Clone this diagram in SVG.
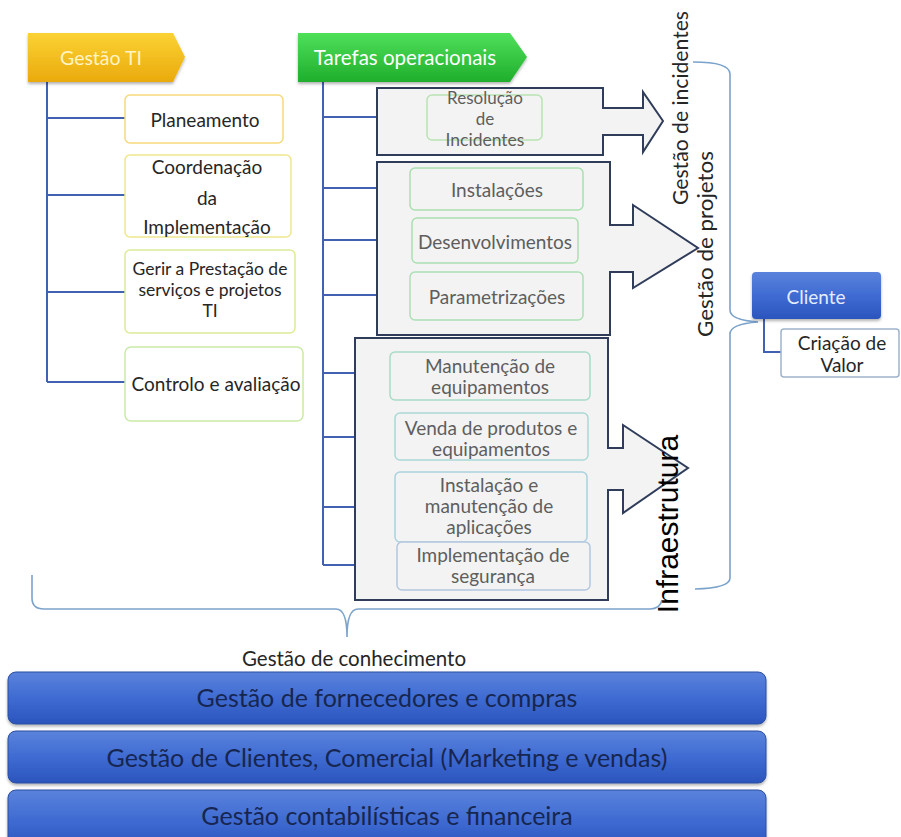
<svg xmlns="http://www.w3.org/2000/svg" width="901" height="837" viewBox="0 0 901 837">
  <defs>
    <linearGradient id="gYellow" x1="0" y1="0" x2="0" y2="1">
      <stop offset="0" stop-color="#fbd234"/>
      <stop offset="1" stop-color="#eaaa0c"/>
    </linearGradient>
    <linearGradient id="gGreen" x1="0" y1="0" x2="0" y2="1">
      <stop offset="0" stop-color="#4fe05a"/>
      <stop offset="1" stop-color="#1fae2c"/>
    </linearGradient>
    <linearGradient id="gBlue" x1="0" y1="0" x2="0" y2="1">
      <stop offset="0" stop-color="#5b83dc"/>
      <stop offset="0.5" stop-color="#3f6bd2"/>
      <stop offset="1" stop-color="#2b55bd"/>
    </linearGradient>
    <filter id="shadow" x="-10%" y="-20%" width="120%" height="150%">
      <feDropShadow dx="0" dy="2" stdDeviation="1.5" flood-color="#000" flood-opacity="0.3"/>
    </filter>
    <style>
      text { font-family: Lato, "Liberation Sans", sans-serif; text-anchor: middle; dominant-baseline: central; }
      .trunk { fill: none; stroke: #4361b3; stroke-width: 2; }
      .brace { fill: none; stroke: #7ca3cc; stroke-width: 1.6; }
      .box { stroke-width: 1.5; fill: #ffffff; }
      .op { fill: #f3f3f3; stroke-width: 1.5; }
      .container { fill: #f3f3f3; stroke: #2f3c5a; stroke-width: 2; }
      .lt { font-size: 19px; fill: #262626; }
      .ot { font-size: 19px; fill: #5e5e5e; }
      .side { font-size: 21px; fill: #262626; }
      .bar { fill: url(#gBlue); stroke: #2c4f9e; stroke-width: 1; }
      .bt { font-size: 25px; fill: #172650; }
    </style>
  </defs>

  <rect width="901" height="837" fill="#ffffff"/>

  <!-- connectors: trunks, branches, braces -->
  <g id="connectors">
    <path class="trunk" d="M47,82 V382 M47,118 H125 M47,195 H125 M47,292 H125 M47,382 H125"/>
    <path class="trunk" d="M323,82 V565 M323,117 H427 M323,188 H410 M323,240 H412 M323,295 H410 M323,373 H390 M323,437 H395 M323,507 H395 M323,565 H397"/>
    <path class="trunk" d="M764,319 V352 H781"/>
    <path class="brace" d="M693,62 Q730,62 730,74 V310 Q730,320 758,322 Q730,324 730,334 V578 Q730,588 695,589"/>
    <path class="brace" d="M32,575 V598 Q32,609 44,609 H336 Q347,609 347,637 Q347,609 358,609 H650 Q660,609 662,600"/>
  </g>

  <!-- Gestão TI banner -->
  <g id="gestao-ti">
    <path d="M28,33 H173 L185,57 L173,82 H28 Z" fill="url(#gYellow)" filter="url(#shadow)"/>
    <text x="101" y="57" style="font-size:19.5px;fill:#fff4c4">Gestão TI</text>
  </g>

  <g id="planeamento">
    <rect class="box" x="125" y="95" width="158" height="48" rx="5" stroke="#f6d97c"/>
    <text class="lt" x="205" y="119">Planeamento</text>
  </g>
  <g id="coordenacao">
    <rect class="box" x="125" y="155" width="166" height="82" rx="5" stroke="#ede78e"/>
    <text class="lt" x="207" y="166">Coordenação</text>
    <text class="lt" x="207" y="197">da</text>
    <text class="lt" x="207" y="226">Implementação</text>
  </g>
  <g id="gerir">
    <rect class="box" x="125" y="250" width="170" height="83" rx="5" stroke="#dcec98"/>
    <text class="lt" x="210" y="268" style="font-size:17.5px">Gerir a Prestação de</text>
    <text class="lt" x="210" y="289" style="font-size:17.5px">serviços e projetos</text>
    <text class="lt" x="210" y="310" style="font-size:17.5px">TI</text>
  </g>
  <g id="controlo">
    <rect class="box" x="125" y="347" width="178" height="74" rx="6" stroke="#c9eaa8"/>
    <text class="lt" x="216" y="383">Controlo e avaliação</text>
  </g>

  <!-- Tarefas operacionais banner -->
  <g id="tarefas">
    <path d="M298,33 H510 L527,57 L510,82 H298 Z" fill="url(#gGreen)" filter="url(#shadow)"/>
    <text x="405" y="57" style="font-size:20.5px;fill:#ffffff">Tarefas operacionais</text>
  </g>

  <!-- Gestão de incidentes group -->
  <g id="grupo-incidentes">
    <path class="container" d="M377,88 H603 V108 H643 V92 L663,121 L643,152 V135 H603 V155 H377 Z"/>
    <rect class="op" x="427" y="95" width="115" height="45" rx="5" stroke="#b9e3b2"/>
    <text class="ot" x="485" y="97" style="font-size:17px">Resolução</text>
    <text class="ot" x="485" y="118" style="font-size:17px">de</text>
    <text class="ot" x="485" y="139" style="font-size:17.5px">Incidentes</text>
    <line x1="377" y1="88" x2="603" y2="88" stroke="#2f3c5a" stroke-width="2"/>
  </g>

  <!-- Gestão de projetos group -->
  <g id="grupo-projetos">
    <path class="container" d="M377,162 H610 V225 H633 V205 L698,248 L633,288 V272 H610 V335 H377 Z"/>
    <g id="instalacoes">
      <rect class="op" x="410" y="168" width="173" height="42" rx="5" stroke="#a9e0ae"/>
      <text class="ot" x="497" y="189">Instalações</text>
    </g>
    <g id="desenvolvimentos">
      <rect class="op" x="412" y="218" width="166" height="45" rx="5" stroke="#ace0b2"/>
      <text class="ot" x="495" y="241">Desenvolvimentos</text>
    </g>
    <g id="parametrizacoes">
      <rect class="op" x="410" y="272" width="173" height="48" rx="5" stroke="#ace0b4"/>
      <text class="ot" x="497" y="296">Parametrizações</text>
    </g>
  </g>

  <!-- Infraestrutura group -->
  <g id="grupo-infra">
    <path class="container" d="M355,338 H608 V448 H623 V425 L688,468 L623,513 V490 H608 V600 H355 Z"/>
    <g id="manutencao">
      <rect class="op" x="390" y="352" width="200" height="48" rx="5" stroke="#a8dcc6"/>
      <text class="ot" x="490" y="365">Manutenção de</text>
      <text class="ot" x="490" y="386">equipamentos</text>
    </g>
    <g id="venda">
      <rect class="op" x="395" y="413" width="193" height="47" rx="5" stroke="#aad9d6"/>
      <text class="ot" x="491" y="427">Venda de produtos e</text>
      <text class="ot" x="491" y="448">equipamentos</text>
    </g>
    <g id="instalacao-apps">
      <rect class="op" x="395" y="472" width="192" height="70" rx="5" stroke="#aad2e0"/>
      <text class="ot" x="489" y="484">Instalação e</text>
      <text class="ot" x="489" y="505">manutenção de</text>
      <text class="ot" x="489" y="526">aplicações</text>
    </g>
    <g id="seguranca">
      <rect class="op" x="397" y="542" width="193" height="48" rx="5" stroke="#b3c8df"/>
      <text class="ot" x="493" y="554">Implementação de</text>
      <text class="ot" x="493" y="575">segurança</text>
    </g>
  </g>

  <!-- vertical labels -->
  <text class="side" transform="translate(679,108) rotate(-90)" textLength="194" lengthAdjust="spacingAndGlyphs">Gestão de incidentes</text>
  <text class="side" transform="translate(704,244) rotate(-90)" textLength="186" lengthAdjust="spacingAndGlyphs">Gestão de projetos</text>
  <text transform="translate(667,524) rotate(-90)" style="font-family:'Liberation Sans',sans-serif;font-size:30px;fill:#000">Infraestrutura</text>

  <!-- Cliente -->
  <g id="cliente">
    <rect x="752" y="272" width="129" height="47" rx="4" fill="url(#gBlue)" filter="url(#shadow)"/>
    <text x="816" y="296" style="font-size:19px;fill:#e4ecff">Cliente</text>
  </g>
  <g id="criacao-valor">
    <rect x="781" y="329" width="118" height="48" rx="3" fill="#ffffff" stroke="#9fb3cc" stroke-width="1.5"/>
    <text class="lt" x="842" y="342">Criação de</text>
    <text class="lt" x="842" y="364">Valor</text>
  </g>

  <text class="lt" x="354" y="658" style="font-size:20.5px">Gestão de conhecimento</text>

  <!-- support layers -->
  <g id="fornecedores">
    <rect class="bar" x="8" y="672" width="758" height="52" rx="8" filter="url(#shadow)"/>
    <text class="bt" x="387" y="697">Gestão de fornecedores e compras</text>
  </g>
  <g id="clientes-comercial">
    <rect class="bar" x="8" y="731" width="758" height="52" rx="8" filter="url(#shadow)"/>
    <text class="bt" x="387" y="757">Gestão de Clientes, Comercial (Marketing e vendas)</text>
  </g>
  <g id="contabilidade">
    <rect class="bar" x="8" y="790" width="758" height="60" rx="8" filter="url(#shadow)"/>
    <text class="bt" x="387" y="815">Gestão contabilísticas e financeira</text>
  </g>
</svg>
